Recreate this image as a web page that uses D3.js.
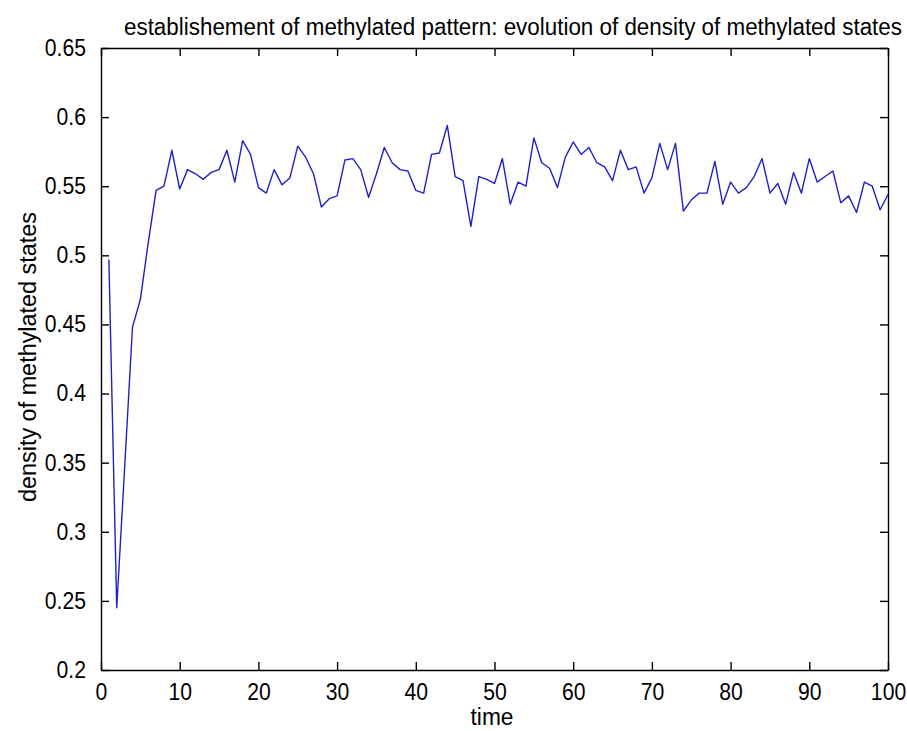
<!DOCTYPE html>
<html>
<head>
<meta charset="utf-8">
<title>methylated pattern</title>
<script src="https://cdn.jsdelivr.net/npm/d3@7"></script>
<style>
body { margin: 0; background: #fff; }
text { font-family: "Liberation Sans", Arial, sans-serif; fill: #000; }
</style>
</head>
<body>
<div id="chart"></div>
<script>
(function() {
"use strict";

//density of methylated states, one value per time step (t = 1..100)
var density = [
    0.497, 0.245, 0.346, 0.448, 0.468, 0.509, 0.547, 0.550, 0.576, 0.548,
    0.562, 0.559, 0.555, 0.560, 0.562, 0.576, 0.553, 0.583, 0.573, 0.549,
    0.545, 0.562, 0.551, 0.556, 0.579, 0.571, 0.559, 0.535, 0.541, 0.543,
    0.569, 0.570, 0.562, 0.542, 0.559, 0.578, 0.567, 0.562, 0.561, 0.547,
    0.545, 0.573, 0.574, 0.594, 0.557, 0.554, 0.521, 0.557, 0.555, 0.552,
    0.570, 0.537, 0.553, 0.550, 0.585, 0.567, 0.563, 0.549, 0.571, 0.582,
    0.573, 0.578, 0.567, 0.564, 0.554, 0.576, 0.562, 0.564, 0.545, 0.556,
    0.581, 0.562, 0.581, 0.532, 0.540, 0.545, 0.545, 0.568, 0.537, 0.553,
    0.545, 0.549, 0.557, 0.570, 0.545, 0.552, 0.537, 0.560, 0.545, 0.570,
    0.553, 0.557, 0.561, 0.538, 0.543, 0.531, 0.553, 0.550, 0.533, 0.544
];
var xTicks = [0, 10, 20, 30, 40, 50, 60, 70, 80, 90, 100];
var yTicks = [0.2, 0.25, 0.3, 0.35, 0.4, 0.45, 0.5, 0.55, 0.6, 0.65];
var yTickLabels = ["0.2", "0.25", "0.3", "0.35", "0.4", "0.45", "0.5", "0.55", "0.6", "0.65"];

var titleText = "establishement of methylated pattern: evolution of density of methylated states";
var xLabel = "time";
var yLabel = "density of methylated states";

var width = 907;
var height = 731;
var left = 101, right = 888, top = 48, bottom = 670; //plot box in pixels
var squeeze = 0.92; //the matlab digits are a bit narrower

var svg = d3.select("#chart")
    .append("svg")
    .attr("width", width)
    .attr("height", height);

var x = d3.scaleLinear().domain([0, 100]).range([left, right]);
var y = d3.scaleLinear().domain([0.2, 0.65]).range([bottom, top]);

//ticks point inwards on all four sides, like matlab
var tickLen = 8;
var bottomAxis = d3.axisBottom(x).tickValues(xTicks).tickSizeInner(-tickLen).tickSizeOuter(0).tickPadding(tickLen + 6);
var topAxis = d3.axisTop(x).tickValues(xTicks).tickSizeInner(-tickLen).tickSizeOuter(0).tickFormat("");
var leftAxis = d3.axisLeft(y).tickValues(yTicks).tickSizeInner(-tickLen).tickSizeOuter(0).tickPadding(tickLen + 7)
    .tickFormat(function(d, i) { return yTickLabels[i]; });
var rightAxis = d3.axisRight(y).tickValues(yTicks).tickSizeInner(-tickLen).tickSizeOuter(0).tickFormat("");

function styleAxis(g) {
    g.select(".domain").attr("stroke", "#000").attr("stroke-width", 1.4);
    g.selectAll(".tick line").attr("stroke", "#000").attr("stroke-width", 1.4);
    g.selectAll(".tick text").style("font-size", "23px").attr("fill", "#000")
        .each(function() { //squeeze tick labels sideways
            this.setAttribute("textLength", this.getComputedTextLength() * squeeze);
            this.setAttribute("lengthAdjust", "spacingAndGlyphs");
        });
}

svg.append("g").attr("transform", "translate(0," + bottom + ")").call(bottomAxis).call(styleAxis);
svg.append("g").attr("transform", "translate(0," + top + ")").call(topAxis).call(styleAxis);
svg.append("g").attr("transform", "translate(" + left + ",0)").call(leftAxis).call(styleAxis);
svg.append("g").attr("transform", "translate(" + right + ",0)").call(rightAxis).call(styleAxis);

//the data line
var line = d3.line()
    .x(function(d, i) { return x(i + 1); })
    .y(function(d) { return y(d); });

svg.append("path")
    .datum(density)
    .attr("d", line)
    .attr("fill", "none")
    .attr("stroke", "#2020c8")
    .attr("stroke-width", 1.4)
    .attr("stroke-linejoin", "round");

//title and axis labels, stretched to the widths seen in the picture
svg.append("text")
    .attr("x", 513)
    .attr("y", 35)
    .attr("text-anchor", "middle")
    .attr("textLength", 778)
    .attr("lengthAdjust", "spacingAndGlyphs")
    .style("font-size", "23px")
    .text(titleText);

svg.append("text")
    .attr("x", 492)
    .attr("y", 725)
    .attr("text-anchor", "middle")
    .attr("textLength", 43)
    .attr("lengthAdjust", "spacingAndGlyphs")
    .style("font-size", "23px")
    .text(xLabel);

svg.append("text")
    .attr("transform", "translate(36,357) rotate(-90)")
    .attr("text-anchor", "middle")
    .attr("textLength", 290)
    .attr("lengthAdjust", "spacingAndGlyphs")
    .style("font-size", "23px")
    .text(yLabel);

})();
</script>
</body>
</html>
